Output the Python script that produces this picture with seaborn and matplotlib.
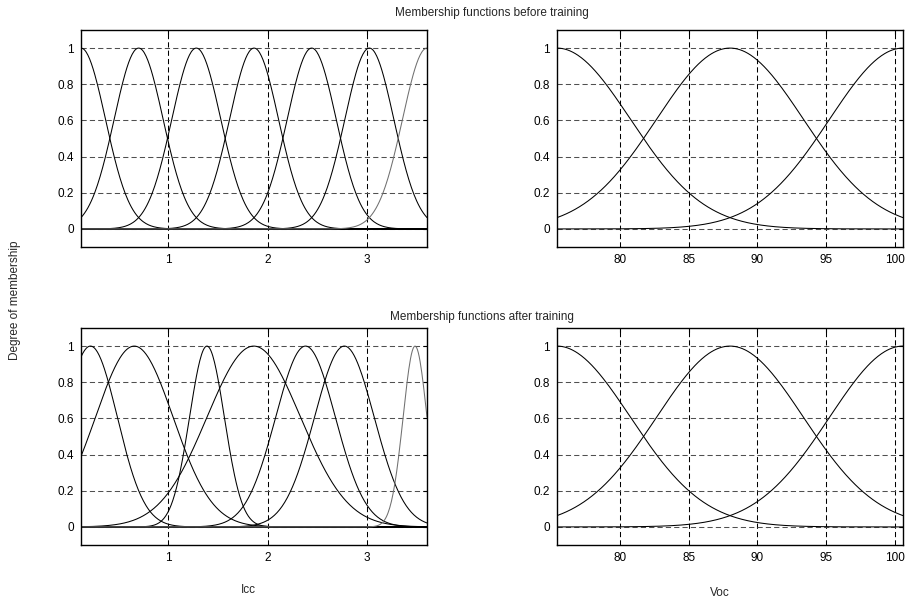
import numpy as np
import pandas as pd
import matplotlib
matplotlib.use("Agg")
import matplotlib.pyplot as plt
import seaborn as sns

# Membership function parameters (gaussian: center, sigma)
icc_range = [0.125, 3.6]
voc_range = [75.4, 100.6]

icc_before_centers = [0.125, 0.704, 1.283, 1.863, 2.442, 3.021, 3.6]
icc_before_sigmas = [0.246, 0.246, 0.246, 0.246, 0.246, 0.246, 0.246]

icc_after_centers = [0.22, 0.66, 1.39, 1.86, 2.38, 2.77, 3.48]
icc_after_sigmas = [0.27, 0.39, 0.175, 0.47, 0.30, 0.30, 0.12]

voc_before_centers = [75.4, 88.0, 100.6]
voc_before_sigmas = [5.35, 5.35, 5.35]

voc_after_centers = [75.4, 88.0, 100.6]
voc_after_sigmas = [5.35, 5.35, 5.35]

icc_ticks = [1, 2, 3]
voc_ticks = [80, 85, 90, 95, 100]
y_ticks = [0, 0.2, 0.4, 0.6, 0.8, 1]
y_tick_labels = ["0", "0.2", "0.4", "0.6", "0.8", "1"]


def mf_frame(centers, sigmas, x_range):
    # Build a long table of all membership curves for seaborn
    x = np.linspace(x_range[0], x_range[1], 400)
    parts = []
    for i, (c, s) in enumerate(zip(centers, sigmas)):
        parts.append(pd.DataFrame({
            "x": x,
            "mu": np.exp(-(x - c) ** 2 / (2 * s ** 2)),
            "mf": f"mf{i + 1}",
        }))
    return pd.concat(parts, ignore_index=True)


sns.set_style("white")
plt.rcParams["font.family"] = ["Liberation Sans", "DejaVu Sans"]
plt.rcParams["font.size"] = 8.5

fig = plt.figure(figsize=(9.10, 6.01), dpi=100)

left_x, right_x, width = 81 / 910, 557 / 910, 346 / 910
top_y, bottom_y, height = 1 - 247 / 601, 1 - 545 / 601, 217 / 601

panels = [
    (left_x, top_y, icc_before_centers, icc_before_sigmas, icc_range, icc_ticks),
    (right_x, top_y, voc_before_centers, voc_before_sigmas, voc_range, voc_ticks),
    (left_x, bottom_y, icc_after_centers, icc_after_sigmas, icc_range, icc_ticks),
    (right_x, bottom_y, voc_after_centers, voc_after_sigmas, voc_range, voc_ticks),
]

for x0, y0, centers, sigmas, x_range, ticks in panels:
    ax = fig.add_axes([x0, y0, width, height])
    df = mf_frame(centers, sigmas, x_range)
    n = len(centers)
    colors = ["black"] * (n - 1) + ["#707070"] if n > 3 else ["black"] * n
    sns.lineplot(data=df, x="x", y="mu", hue="mf", palette=colors,
                 linewidth=0.75, legend=False, ax=ax)
    ax.set_xlim(x_range)
    ax.set_ylim(-0.1, 1.1)
    ax.set_xticks(ticks)
    ax.set_yticks(y_ticks)
    ax.set_yticklabels(y_tick_labels)
    ax.set_xlabel("")
    ax.set_ylabel("")
    ax.xaxis.grid(True, color="black", linestyle=(0, (5, 3)), linewidth=0.75)
    ax.yaxis.grid(True, color="#505050", linestyle=(0, (5, 3)), linewidth=0.75)
    ax.set_axisbelow(True)
    if n > 3:
        # thick baseline at zero where the many tails pile up
        ax.axhline(0, color="black", linewidth=1.3, zorder=1)
    for sp in ax.spines.values():
        sp.set_visible(True)
        sp.set_color("black")
        sp.set_linewidth(1.0)
    ax.tick_params(direction="in", length=3, width=0.8, top=True, right=True,
                   labelsize=8.5, colors="black")
    ax.tick_params(axis="x", pad=5)
    ax.tick_params(axis="y", pad=5)

fig.text(492 / 910, 1 - 13 / 601, "Membership functions before training",
         ha="center", va="center", fontsize=8.5)
fig.text(482 / 910, 1 - 317 / 601, "Membership functions after training",
         ha="center", va="center", fontsize=8.5)
fig.text(15 / 910, 1 - 300 / 601, "Degree of membership", rotation=90,
         ha="center", va="center", fontsize=8.5)
fig.text(248 / 910, 1 - 590 / 601, "Icc", ha="center", va="center", fontsize=8.5)
fig.text(720 / 910, 1 - 593 / 601, "Voc", ha="center", va="center", fontsize=8.5)

fig.savefig("out.png", dpi=100, facecolor="white")
